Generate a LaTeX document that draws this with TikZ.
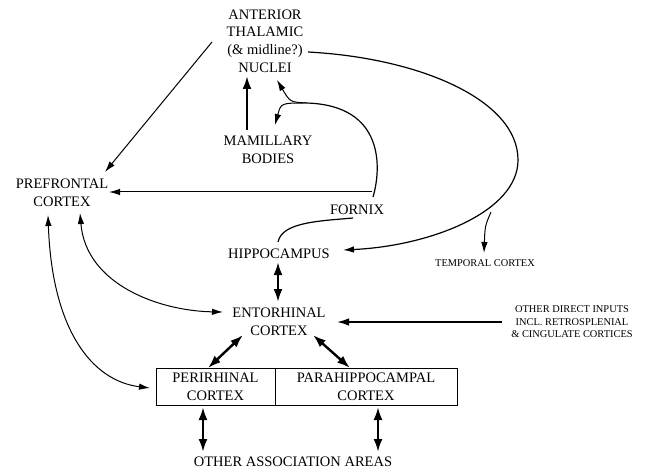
\documentclass[tikz,border=0pt]{standalone}
\usepackage{fontspec}
\setmainfont{Liberation Serif}
\usetikzlibrary{arrows.meta}
\tikzset{
  lbl/.style={inner sep=0pt, align=center, font=\fontsize{14.5}{17.7}\selectfont},
  small/.style={inner sep=0pt, align=center, font=\fontsize{10.4}{12.5}\selectfont},
  thinarrow/.style={line width=1pt, -{Latex[length=11pt,width=6.5pt]}},
  thinboth/.style={line width=1pt, {Latex[length=11pt,width=6.5pt]}-{Latex[length=11pt,width=6.5pt]}},
  thickarrow/.style={line width=2.4pt, -{Latex[length=13pt,width=9pt]}},
  thickboth/.style={line width=2.4pt, {Latex[length=13pt,width=9pt]}-{Latex[length=13pt,width=9pt]}},
  plain/.style={line width=1.2pt},
  boxed/.style={draw, line width=1pt, minimum height=37pt, inner sep=0pt, align=center, font=\fontsize{14.5}{17.7}\selectfont}
}
\begin{document}
\begin{tikzpicture}[x=1pt,y=-1pt]
\useasboundingbox (0,0) rectangle (652,470);
% nodes
\node[lbl] (ant) at (265,41) {ANTERIOR\\THALAMIC\\(\& midline?)\\NUCLEI};
\node[lbl] (mam) at (268,150) {MAMILLARY\\BODIES};
\node[lbl] (pfc) at (62,193) {PREFRONTAL\\CORTEX};
\node[lbl] (fornix) at (357,210) {FORNIX};
\node[lbl] (hippo) at (279,254) {HIPPOCAMPUS};
\node[lbl] (ento) at (279,322) {ENTORHINAL\\CORTEX};
\node[boxed, minimum width=119pt] (peri) at (215.5,386.5) {PERIRHINAL\\CORTEX};
\node[boxed, minimum width=182pt] (para) at (366,386.5) {PARAHIPPOCAMPAL\\CORTEX};
\node[lbl] (other) at (293,462) {OTHER ASSOCIATION AREAS};
\node[small] (temp) at (485,263) {TEMPORAL CORTEX};
\node[small] (odi) at (572,322) {OTHER DIRECT INPUTS\\INCL. RETROSPLENIAL\\\& CINGULATE CORTICES};
% connector end points
\coordinate (antL) at (212,42);
\coordinate (pfcTR) at (105,172);
\coordinate (mamTop) at (247,130);
\coordinate (antBot) at (247,76);
\coordinate (fxstart) at (373,197);
\coordinate (fxtop) at (306,103);
\coordinate (antBotR) at (277,80);
\coordinate (mamTopR) at (275,125);
\coordinate (fxmid) at (372,192);
\coordinate (pfcR) at (109,192);
\coordinate (hipTop) at (278,242);
\coordinate (fxBot) at (353,218);
\coordinate (antR) at (308,52);
\coordinate (loopR) at (518,160);
\coordinate (hipR) at (343,250);
\coordinate (tbranch) at (491,212);
\coordinate (tempTop) at (484,253);
\coordinate (hipBot) at (278,262);
\coordinate (entTop) at (278,302);
\coordinate (pfcB1) at (80,213);
\coordinate (entL) at (223,312);
\coordinate (pfcB2) at (48,215);
\coordinate (periL) at (150,388);
\coordinate (entBL) at (243,335);
\coordinate (periT) at (208,368);
\coordinate (entBR) at (313,335);
\coordinate (paraT) at (350,368);
\coordinate (periB) at (203,407);
\coordinate (othL) at (203,452);
\coordinate (paraB) at (378,407);
\coordinate (othR) at (378,452);
\coordinate (odiL) at (502,322);
\coordinate (entR) at (337,322);
% anterior thalamic -> prefrontal
\draw[thinarrow] (antL) -- (pfcTR);
% mamillary -> anterior
\draw[thickarrow] (mamTop) -- (antBot);
% fornix loop
\draw[plain] (fxstart) .. controls (381,170) and (386,105) .. (fxtop);
\draw[thinarrow] (fxtop) .. controls (290,102) .. (antBotR);
\draw[thinarrow] (fxtop) .. controls (281,103) .. (mamTopR);
% horizontal line to prefrontal
\draw[thinarrow] (fxmid) -- (pfcR);
% hippocampus -> fornix
\draw[plain] (hipTop) .. controls (282,222) and (320,221) .. (fxBot);
% big loop: nuclei -> hippocampus
\draw[thinarrow, line width=1.2pt] (antR) .. controls (420,58) and (518,100) .. (loopR)
  .. controls (518,212) and (430,246) .. (hipR);
% branch to temporal cortex
\draw[thinarrow] (tbranch) .. controls (485,226) .. (tempTop);
% hippocampus <-> entorhinal
\draw[thickboth] (hipBot) -- (entTop);
% prefrontal <-> entorhinal
\draw[thinboth] (pfcB1) .. controls (86,285) and (160,311) .. (entL);
% prefrontal <-> perirhinal
\draw[thinboth] (pfcB2) .. controls (52,330) and (92,381) .. (periL);
% entorhinal <-> perirhinal / parahippocampal
\draw[thickboth] (entBL) -- (periT);
\draw[thickboth] (entBR) -- (paraT);
% to other association areas
\draw[thickboth] (periB) -- (othL);
\draw[thickboth] (paraB) -- (othR);
% other direct inputs -> entorhinal
\draw[line width=1.6pt, -{Latex[length=12pt,width=7.5pt]}] (odiL) -- (entR);
\end{tikzpicture}
\end{document}
